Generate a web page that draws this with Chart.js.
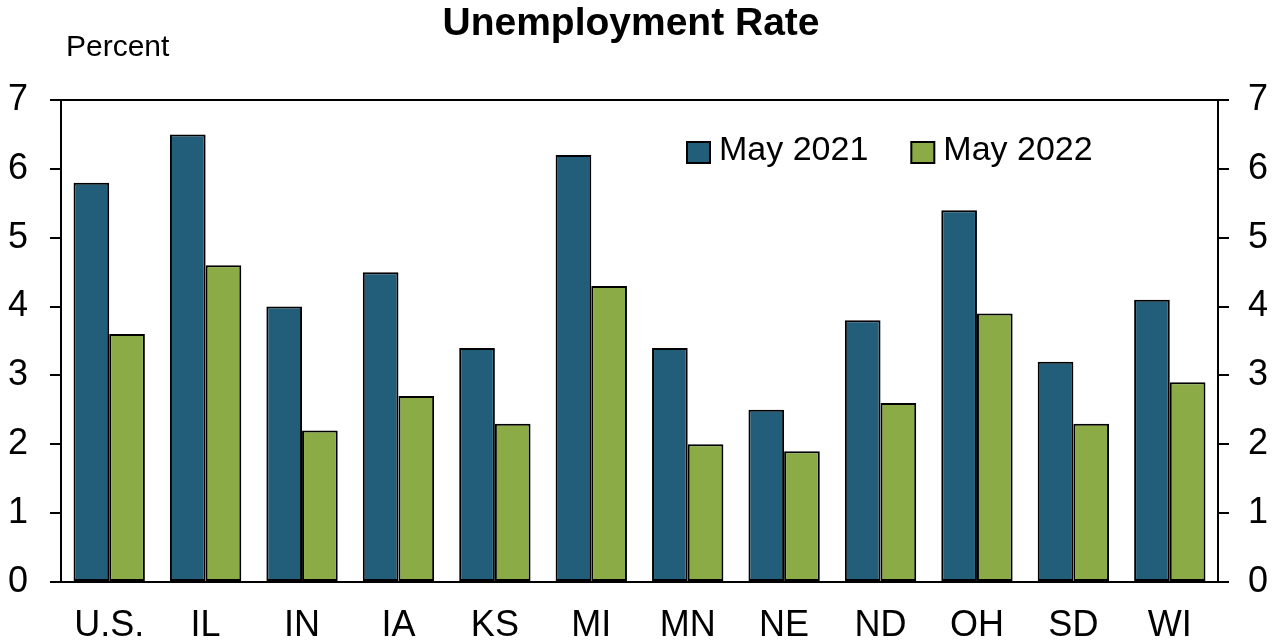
<!DOCTYPE html>
<html><head><meta charset="utf-8">
<script src="https://cdn.jsdelivr.net/npm/chart.js@4.4.0/dist/chart.umd.min.js"></script>
<style>html,body{margin:0;padding:0;background:#fff;overflow:hidden}#wrap{width:1276px;height:644px}</style>
</head><body><div id="wrap"><canvas id="c" width="1276" height="644"></canvas></div>
<script>
const categories = ['U.S.','IL','IN','IA','KS','MI','MN','NE','ND','OH','SD','WI'];
const may2021 = [5.8,6.5,4.0,4.5,3.4,6.2,3.4,2.5,3.8,5.4,3.2,4.1];
const may2022 = [3.6,4.6,2.2,2.7,2.3,4.3,2.0,1.9,2.6,3.9,2.3,2.9];
const seriesLabels = ['May 2021','May 2022'];
const yTicks = [0,1,2,3,4,5,6,7];
const chartTitle = 'Unemployment Rate';
const yUnit = 'Percent';

const BLUE = '#225E7A';
const GREEN = '#8AAB46';
const narrow = '"Liberation Sans Narrow", "Arial Narrow", "Liberation Sans", Arial, sans-serif';
const regular = '"Liberation Sans", Arial, sans-serif';

const textPlugin = {
  id: 'texts',
  afterDraw(chart) {
    const ctx = chart.ctx;
    ctx.save();
    ctx.fillStyle = '#000';
    ctx.textBaseline = 'middle';
    ctx.textAlign = 'center';
    ctx.font = 'bold 39px ' + regular;
    ctx.fillText(chartTitle, 631, 24);
    ctx.textAlign = 'left';
    ctx.font = '30px ' + regular;
    ctx.fillText(yUnit, 66, 48);
    // legend
    ctx.font = '34px ' + regular;
    let x = 687;
    chart.data.datasets.forEach((ds) => {
      ctx.fillStyle = ds.backgroundColor;
      ctx.fillRect(x, 142, 23, 21);
      ctx.strokeStyle = '#000';
      ctx.lineWidth = 2;
      ctx.strokeRect(x, 142, 23, 21);
      ctx.fillStyle = '#000';
      ctx.fillText(ds.label, x + 32, 151);
      x += 32 + ctx.measureText(ds.label).width + 43;
    });
    ctx.restore();
  }
};

const tickFont = { family: narrow, size: 36 };

new Chart(document.getElementById('c'), {
  type: 'bar',
  data: {
    labels: categories,
    datasets: [
      { label: seriesLabels[0], data: may2021, backgroundColor: BLUE, borderColor: '#000', borderWidth: 2, borderSkipped: false, yAxisID: 'y' },
      { label: seriesLabels[1], data: may2022, backgroundColor: GREEN, borderColor: '#000', borderWidth: 2, borderSkipped: false, yAxisID: 'y' }
    ]
  },
  options: {
    responsive: false,
    animation: false,
    devicePixelRatio: 1,
    layout: { padding: { top: 100, left: 0, right: 0, bottom: 0 } },
    datasets: { bar: { categoryPercentage: 0.74, barPercentage: 1.0 } },
    plugins: { legend: { display: false }, title: { display: false }, tooltip: { enabled: false } },
    scales: {
      x: {
        grid: { display: false, drawTicks: false },
        border: { display: false },
        ticks: { font: tickFont, color: '#000', padding: 22, maxRotation: 0, autoSkip: false },
        afterFit(s) { s.height = 62; }
      },
      y: {
        position: 'left', min: 0, max: 7,
        afterBuildTicks(s) { s.ticks = yTicks.map(v => ({ value: v })); },
        ticks: { font: tickFont, color: '#000', padding: 22 },
        grid: {
          color: (c) => (c.tick && (c.tick.value === 0 || c.tick.value === 7)) ? '#000' : 'rgba(0,0,0,0)',
          tickColor: '#000', lineWidth: 2, tickLength: 11, drawTicks: true
        },
        border: { display: true, color: '#000', width: 2 },
        afterFit(s) { s.width = 61; }
      },
      y2: {
        position: 'right', min: 0, max: 7,
        afterBuildTicks(s) { s.ticks = yTicks.map(v => ({ value: v })); },
        ticks: { font: tickFont, color: '#000', padding: 19 },
        grid: { drawOnChartArea: false, tickColor: '#000', lineWidth: 2, tickLength: 11 },
        border: { display: true, color: '#000', width: 2 },
        afterFit(s) { s.width = 58; }
      }
    }
  },
  plugins: [textPlugin]
});
</script>
</body></html>
